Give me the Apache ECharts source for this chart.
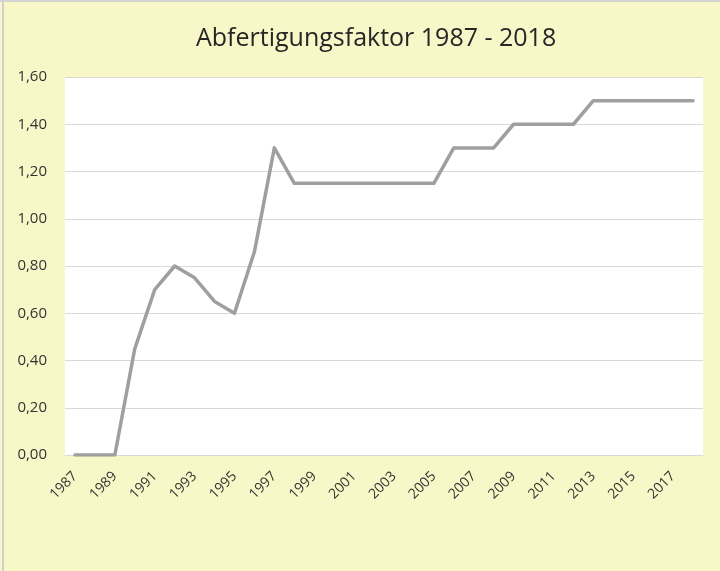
<!DOCTYPE html>
<html>
<head>
<meta charset="utf-8">
<script src="https://cdn.jsdelivr.net/npm/echarts@6/dist/echarts.min.js"></script>
<style>
html,body{margin:0;padding:0;background:#F8F7C8;}
#chart{width:720px;height:571px;}
</style>
</head>
<body>
<div id="chart"></div>
<script>
const years = ['1987','1988','1989','1990','1991','1992','1993','1994','1995','1996','1997','1998','1999','2000','2001','2002','2003','2004','2005','2006','2007','2008','2009','2010','2011','2012','2013','2014','2015','2016','2017','2018'];
const factor = [0,0,0,0.45,0.70,0.80,0.75,0.65,0.60,0.86,1.30,1.15,1.15,1.15,1.15,1.15,1.15,1.15,1.15,1.30,1.30,1.30,1.40,1.40,1.40,1.40,1.50,1.50,1.50,1.50,1.50,1.50];
const chartTitle = 'Abfertigungsfaktor 1987 - 2018';

const chart = echarts.init(document.getElementById('chart'));
chart.setOption({
  backgroundColor: '#F8F7C8',
  animation: false,
  textStyle: { fontFamily: 'Open Sans' },
  graphic: [
    { type: 'line', shape: { x1: 0, y1: 1, x2: 720, y2: 1 },
      style: { stroke: '#D4D4D4', lineWidth: 2 }, silent: true, z: 100 },
    { type: 'line', shape: { x1: 3, y1: 0, x2: 3, y2: 571 },
      style: { stroke: '#D0D0D0', lineWidth: 2 }, silent: true, z: 100 }
  ],
  title: {
    text: chartTitle, left: 191, top: 21,
    textStyle: { fontFamily: 'Open Sans', fontSize: 25, fontWeight: 'normal', color: '#262626' }
  },
  grid: { left: 65, right: 17, top: 77, bottom: 116, show: true, backgroundColor: '#FFFFFF', borderWidth: 0 },
  xAxis: {
    type: 'category', data: years, boundaryGap: true,
    axisLine: { show: true, lineStyle: { color: '#D9D9D9', width: 1 } },
    axisTick: { show: false },
    axisLabel: { interval: 1, rotate: 45, fontSize: 14, color: '#333333', margin: 19, fontFamily: 'Open Sans' }
  },
  yAxis: {
    type: 'value', min: 0, max: 1.6, interval: 0.2,
    axisLine: { show: false }, axisTick: { show: false },
    splitLine: { lineStyle: { color: '#D9D9D9', width: 1 } },
    axisLabel: { fontSize: 15, color: '#333333', margin: 18, fontFamily: 'Open Sans',
      formatter: v => v.toFixed(2).replace('.', ',') }
  },
  series: [{
    type: 'line', data: factor, showSymbol: false, symbol: 'none',
    lineStyle: { color: '#9EA09E', width: 3.5, cap: 'round', join: 'round' }
  }]
});
</script>
</body>
</html>
